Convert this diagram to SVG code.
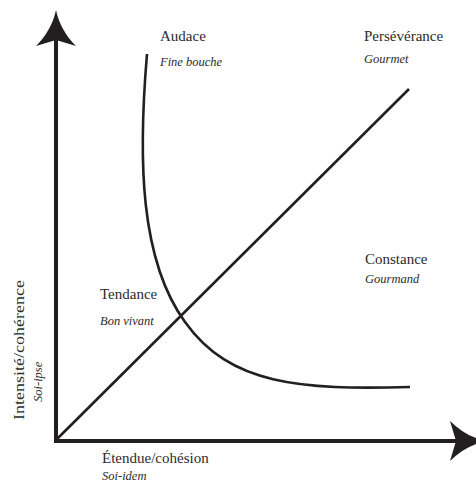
<svg xmlns="http://www.w3.org/2000/svg" width="476" height="486" viewBox="0 0 476 486">
  <defs>
    <!-- arrowhead pointing up, tip at the origin -->
    <path id="head" d="M0,0 C3,14 10,26 20,36 L0,30 L-20,36 C-10,26 -3,14 0,0 Z" fill="#231f20"/>
  </defs>
  <rect width="476" height="486" fill="#ffffff"/>

  <g id="connectors" fill="none" stroke="#231f20">
    <!-- axes -->
    <line stroke-width="4" x1="56" y1="443" x2="56" y2="38"/>
    <line stroke-width="4" x1="54" y1="441" x2="462" y2="441"/>
    <use href="#head" stroke="none" transform="translate(56,10)"/>
    <use href="#head" stroke="none" transform="translate(486,441) rotate(90)"/>
    <!-- diagonal -->
    <line stroke-width="2.6" x1="56" y1="440" x2="409" y2="89"/>
    <!-- hyperbola-like curve -->
    <path stroke-width="2.6" d="M147,54 C138,160 140,260 185,322 C230,385 300,390 410,387"/>
  </g>

  <g id="audace">
    <text x="160" y="41" font-family="Liberation Serif" font-size="15" fill="#2b2b2b">Audace</text>
    <text x="160" y="66" font-family="Liberation Serif" font-size="12.5" font-style="italic" fill="#2b2b2b">Fine bouche</text>
  </g>
  <g id="perseverance">
    <text x="364" y="41" font-family="Liberation Serif" font-size="15" fill="#2b2b2b">Persévérance</text>
    <text x="364" y="63" font-family="Liberation Serif" font-size="12.5" font-style="italic" fill="#2b2b2b">Gourmet</text>
  </g>
  <g id="constance">
    <text x="365" y="264" font-family="Liberation Serif" font-size="15" fill="#2b2b2b">Constance</text>
    <text x="365" y="283" font-family="Liberation Serif" font-size="12.5" font-style="italic" fill="#2b2b2b">Gourmand</text>
  </g>
  <g id="tendance">
    <text x="100" y="299" font-family="Liberation Serif" font-size="15" fill="#2b2b2b">Tendance</text>
    <text x="100" y="325" font-family="Liberation Serif" font-size="12.5" font-style="italic" fill="#2b2b2b">Bon vivant</text>
  </g>
  <g id="axis-x-label">
    <text x="102" y="463" font-family="Liberation Serif" font-size="15" fill="#2b2b2b">Étendue/cohésion</text>
    <text x="102" y="480" font-family="Liberation Serif" font-size="12.5" font-style="italic" fill="#2b2b2b">Soi-idem</text>
  </g>
  <g id="axis-y-label">
    <text transform="translate(24,420) rotate(-90)" textLength="140" lengthAdjust="spacingAndGlyphs" font-family="Liberation Serif" font-size="15" fill="#2b2b2b">Intensité/cohérence</text>
    <text transform="translate(42,402) rotate(-90)" font-family="Liberation Serif" font-size="12.5" font-style="italic" fill="#2b2b2b">Soi-ipse</text>
  </g>
</svg>
